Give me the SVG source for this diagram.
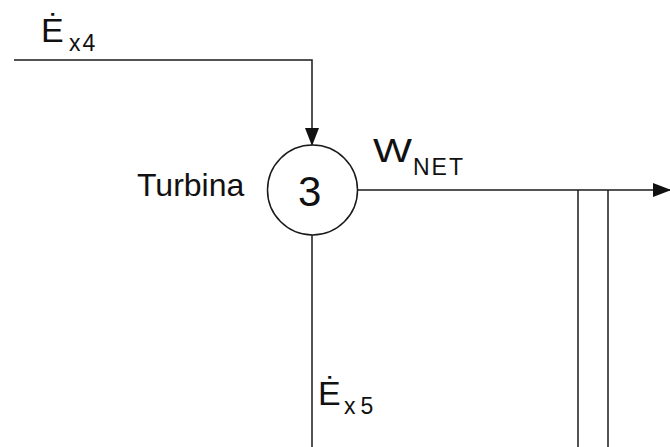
<svg xmlns="http://www.w3.org/2000/svg" width="670" height="447" viewBox="0 0 670 447">
<defs>
<style>
.ln{stroke:#1a1a1a;stroke-width:1.5;fill:none}
.t{font-family:"Liberation Sans",Arial,sans-serif;fill:#111}
.sub{font-size:23px;letter-spacing:2px}
</style>
<marker id="ah" markerWidth="18" markerHeight="14" refX="17" refY="7" orient="auto" markerUnits="userSpaceOnUse">
<path d="M0,0 L18,7 L0,14 Z" fill="#111"/>
</marker>
</defs>
<rect width="670" height="447" fill="#fff"/>
<g id="connectors">
<path class="ln" d="M14,60 H312 V145" marker-end="url(#ah)"/>
<path class="ln" d="M358,190 H670" marker-end="url(#ah)"/>
<path class="ln" d="M312,235 V447"/>
<path class="ln" d="M578,190 V447"/>
<path class="ln" d="M608,190 V447"/>
</g>
<g id="turbina">
<circle class="ln" cx="312.5" cy="190" r="45"/>
<text class="t" x="298" y="206" font-size="42">3</text>
<text class="t" x="137" y="196" font-size="32">Turbina</text>
</g>
<g id="labels">
<text class="t" x="41" y="42" font-size="34">Ė</text>
<text class="t sub" x="69" y="51">x4</text>
<text class="t" x="373" y="162" font-size="34" textLength="39" lengthAdjust="spacingAndGlyphs">W</text>
<text class="t sub" x="413" y="175">NET</text>
<text class="t" x="318" y="405" font-size="34">Ė</text>
<text class="t sub" x="344" y="414" style="letter-spacing:5px">x5</text>
</g>
</svg>
